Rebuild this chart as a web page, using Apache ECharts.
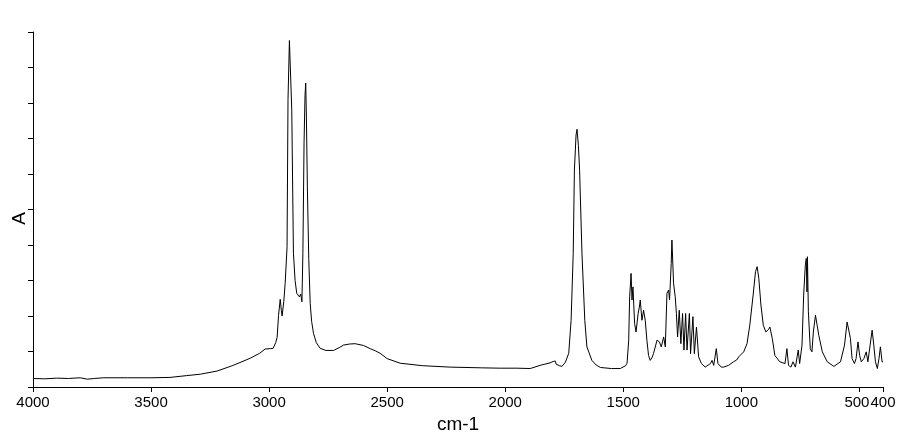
<!DOCTYPE html>
<html>
<head>
<meta charset="utf-8">
<script src="https://cdn.jsdelivr.net/npm/echarts@6/dist/echarts.min.js"></script>
<style>
html,body{margin:0;padding:0;background:#fff;}
#chart{width:910px;height:445px;}
</style>
</head>
<body>
<div id="chart"></div>
<script>
// Wavenumbers (cm-1), descending
const wavenumbers = [
4000,3950,3900,3850,3800,3770,3740,3700,3600,3500,3420,3350,3292,3220,3152,3080,3040,3017,2995,2983,
2972,2966,2960,2953,2948,2945,2938,2932,2924,2920,2914,2911,2904,2897,2890,2883,2872,2866,2861,2857,
2852,2848,2845,2842,2838,2832,2826,2820,2812,2800,2784,2760,2727,2700,2685,2660,2636,2600,2572,2550,
2530,2500,2445,2350,2233,2100,2021,1950,1894,1852,1810,1797,1788,1784,1770,1760,1745,1731,1721,1712,
1707,1700,1696,1690,1685,1675,1663,1654,1633,1615,1597,1550,1513,1490,1484,1477,1473,1467,1463,1459,
1452,1446,1437,1432,1428,1421,1414,1407,1400,1393,1386,1379,1372,1357,1347,1339,1329,1322,1315,1308,
1304,1297,1294,1287,1280,1275,1270,1263,1256,1249,1243,1236,1230,1220,1215,1205,1199,1190,1181,1169,
1153,1131,1124,1117,1106,1099,1085,1075,1054,1033,1020,1011,1004,990,976,964,950,940,933,926,
917,907,896,885,879,869,858,837,815,807,800,790,781,771,759,753,743,736,729,725,
722,720,716,708,701,695,686,679,672,657,636,608,580,563,552,545,538,531,521,514,
506,499,492,481,471,464,456,446,439,432,424,417,411,404,400
];
// Absorbance (arbitrary units, axis 0-10)
const absorbance = [
0.24,0.23,0.25,0.24,0.26,0.22,0.24,0.26,0.26,0.26,0.27,0.32,0.36,0.45,0.61,0.81,0.95,1.07,1.08,1.09,
1.25,1.40,2.02,2.47,2.15,2.00,2.40,2.92,3.95,8.09,9.76,9.74,7.80,3.77,3.00,2.64,2.54,2.62,2.40,3.77,
6.88,8.20,8.56,7.60,5.64,3.60,2.36,1.85,1.51,1.25,1.09,1.03,1.03,1.12,1.18,1.21,1.22,1.17,1.08,1.02,
0.95,0.80,0.67,0.60,0.56,0.54,0.53,0.53,0.52,0.61,0.68,0.72,0.73,0.64,0.60,0.58,0.70,0.95,1.88,3.77,
6.11,7.10,7.26,6.80,6.11,3.77,1.88,1.13,0.75,0.62,0.55,0.52,0.52,0.60,0.67,1.32,2.54,3.20,2.45,2.82,
1.79,1.55,2.07,2.25,2.45,1.88,2.16,1.88,1.32,0.89,0.75,0.82,0.94,1.32,1.27,1.13,1.41,1.13,2.64,2.73,
2.45,3.48,4.14,2.92,2.54,2.07,1.41,2.16,1.22,2.07,1.04,2.07,1.04,2.07,0.94,1.98,0.94,1.69,0.85,0.66,
0.56,0.66,0.75,0.61,1.08,0.66,0.56,0.56,0.61,0.71,0.76,0.85,0.80,0.99,1.22,1.75,2.59,3.25,3.39,3.06,
2.31,1.74,1.55,1.62,1.69,1.37,0.89,0.71,0.66,1.08,0.61,0.56,0.71,0.56,1.04,0.66,1.18,2.59,3.43,3.62,
2.68,3.67,2.12,1.08,0.99,1.55,2.02,1.74,1.46,0.99,0.71,0.58,0.71,1.18,1.83,1.88,1.37,0.80,0.66,0.80,
1.27,0.89,0.71,0.80,0.99,0.71,0.75,1.60,1.18,0.71,0.52,0.80,1.13,0.71,0.71
];
const xTickValues = [4000,3500,3000,2500,2000,1500,1000,500];
const xEndTickValues = [400];
const xAxisTitle = 'cm-1';
const yAxisTitle = 'A';

const seriesData = wavenumbers.map((w, i) => [w, absorbance[i]]);
const FONT = '"Liberation Sans", Arial, sans-serif';
const labelStyle = {color: '#000', fontFamily: FONT, fontSize: 15};

const chart = echarts.init(document.getElementById('chart'), null, {renderer: 'canvas'});
chart.setOption({
  animation: false,
  backgroundColor: '#ffffff',
  grid: {left: 33, right: 27, top: 32, bottom: 58, containLabel: false},
  xAxis: [{
    type: 'value',
    min: 400, max: 4000,
    inverse: true,
    position: 'bottom',
    name: xAxisTitle,
    nameLocation: 'middle',
    nameGap: 21,
    nameTextStyle: {color: '#000', fontFamily: FONT, fontSize: 19},
    axisLine: {show: true, onZero: false, lineStyle: {color: '#000', width: 1}},
    axisTick: {show: true, inside: false, length: 5, lineStyle: {color: '#000'}, customValues: xTickValues},
    axisLabel: Object.assign({
      show: true, margin: 8, customValues: xTickValues, hideOverlap: false,
      formatter: function (v) { return v === 500 ? '{s|' + v + '}' : String(v); },
      rich: {s: Object.assign({padding: [0, 5, 0, 0]}, labelStyle)}
    }, labelStyle),
    splitLine: {show: false}
  }, {
    type: 'value',
    min: 400, max: 4000,
    inverse: true,
    position: 'bottom',
    offset: 0,
    axisLine: {show: false, onZero: false},
    axisTick: {show: true, inside: false, length: 5, lineStyle: {color: '#000'}, customValues: xEndTickValues},
    axisLabel: Object.assign({
      show: true, margin: 8, customValues: xEndTickValues, hideOverlap: false,
      formatter: function (v) { return String(v); }
    }, labelStyle),
    splitLine: {show: false}
  }],
  yAxis: {
    type: 'value',
    min: 0, max: 10, interval: 1,
    name: yAxisTitle,
    nameLocation: 'middle',
    nameGap: 4,
    nameRotate: 90,
    nameTextStyle: {color: '#000', fontFamily: FONT, fontSize: 19, padding: [0, 18, 0, 0]},
    axisLine: {show: true, lineStyle: {color: '#000', width: 1}},
    axisTick: {show: true, inside: false, length: 5, lineStyle: {color: '#000'}},
    axisLabel: {show: false},
    splitLine: {show: false}
  },
  series: [{
    type: 'line',
    xAxisIndex: 0,
    data: seriesData,
    showSymbol: false,
    symbol: 'none',
    smooth: false,
    lineStyle: {color: '#000', width: 1},
    silent: true
  }]
});
</script>
</body>
</html>
